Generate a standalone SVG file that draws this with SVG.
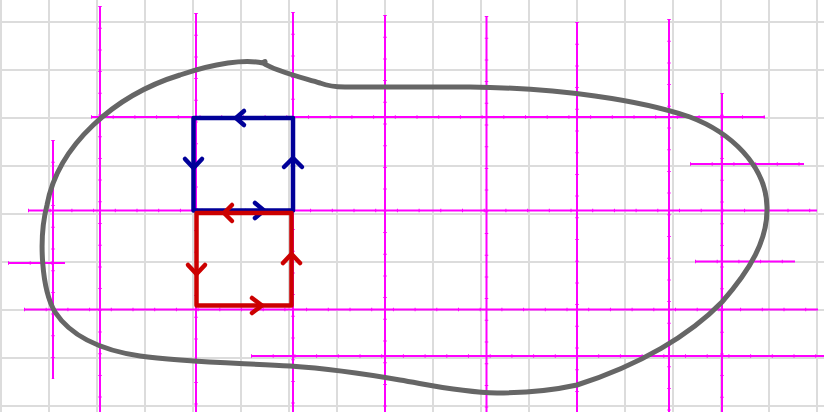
<svg xmlns="http://www.w3.org/2000/svg" width="824" height="412" viewBox="0 0 824 412">
<style>
.g{stroke:#dcdcdc;stroke-width:2;fill:none}
.m{stroke:#ff00ff;stroke-width:2;fill:none}
.t{stroke:#ff00ff;stroke-width:3.5;stroke-dasharray:1 20.7;fill:none}
.c{stroke:#666666;stroke-width:5;fill:none;stroke-linecap:round;stroke-linejoin:round}
.b{stroke:#000099;stroke-width:4.5;fill:none;stroke-linecap:round;stroke-linejoin:round}
.r{stroke:#cc0000;stroke-width:4.5;fill:none;stroke-linecap:round;stroke-linejoin:round}
</style>
<rect width="824" height="412" fill="#ffffff"/>
<g id="grid">
<path class="g" d="M1,0V412M49,0V412M97,0V412M145,0V412M193,0V412M241,0V412M289,0V412M337,0V412M385,0V412M433,0V412M481,0V412M529,0V412M577,0V412M625,0V412M673,0V412M721,0V412M769,0V412M817,0V412"/>
<path class="g" d="M0,22H824M0,70H824M0,118H824M0,166H824M0,214H824M0,262H824M0,310H824M0,358H824M0,406H824"/>
</g>
<g id="magenta-lines">
<path class="m" d="M100,6V412M196,13V412M293,12V412M385,15V412M486.5,16V412M577,22V412M669,19V412M722,93V412M53,140V379"/>
<path class="m" d="M91,117H765M690,164H804M28,210.5H817M8,263H65M695,261.5H795M24,309.5H818M251,356H824"/>
<path class="t" d="M100,6V412M196,13V412M293,12V412M385,15V412M486.5,16V412M577,22V412M669,19V412M722,93V412M53,140V379"/>
<path class="t" d="M91,117H765M690,164H804M28,210.5H817M8,263H65M695,261.5H795M24,309.5H818M251,356H824"/>
</g>
<g id="region">
<path class="c" d="M263,63 C275,71 300,77 320,83 C328,86 333,87 345,87 L470,87 C560,88 640,100 690,117 C730,132 766,165 767,207 C768,240 750,270 722,302 C690,335 640,365 577,385 C545,392 520,393 497,393 C460,392 430,385 400,380 C360,373 320,368 290,366 C240,363 180,362 140,356 C100,350 70,335 55,312 C42,290 38,240 47,205 C58,145 115,95 180,75 C215,63 245,59 263,63"/>
<path class="c" d="M263,62.5 L265,61.5"/>
</g>
<g id="blue-square">
<rect class="b" x="193.5" y="118" width="99.5" height="92.5"/>
<polyline class="b" points="244,111 236,118 244,125"/>
<polyline class="b" points="185,159 193.5,168 202,159"/>
<polyline class="b" points="284,167 293,158 302,167"/>
<polyline class="b" points="255,203 264,210.5 255,218"/>
</g>
<g id="red-square">
<rect class="r" x="196.5" y="213" width="95" height="92.5"/>
<polyline class="r" points="232,205 224,213 232,221"/>
<polyline class="r" points="188,265 196.5,274 205,265"/>
<polyline class="r" points="283,263 291.5,254 300,263"/>
<polyline class="r" points="252,298 262,305.5 252,313"/>
</g>
</svg>
